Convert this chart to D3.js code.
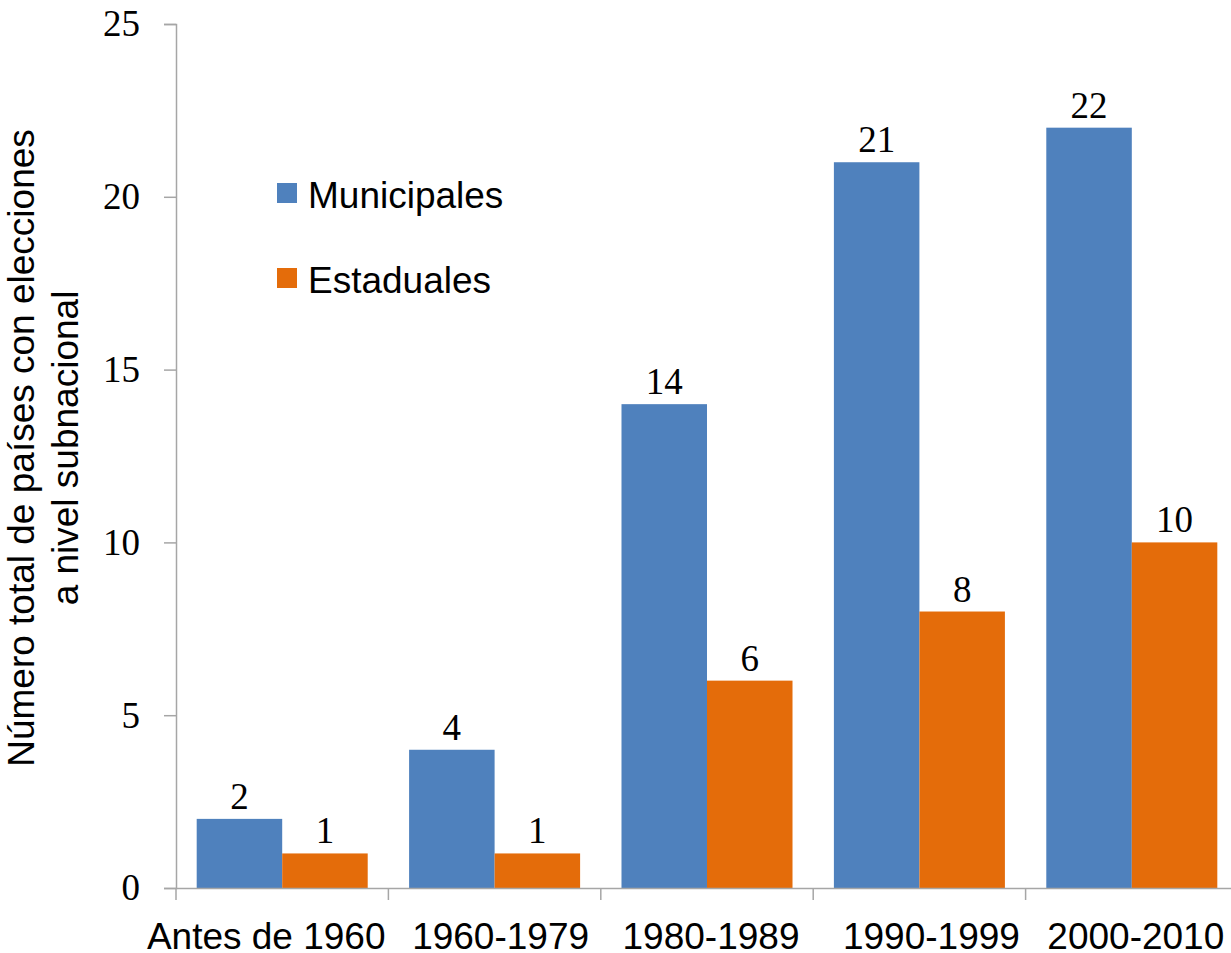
<!DOCTYPE html>
<html>
<head>
<meta charset="utf-8">
<script src="https://cdn.jsdelivr.net/npm/d3@7"></script>
<style>
  body { margin: 0; background: #fff; }
  svg { display: block; }
</style>
</head>
<body>
<div id="chart"></div>
<script>
// data
var categories = ["Antes de 1960", "1960-1979", "1980-1989", "1990-1999", "2000-2010"];
var seriesNames = ["Municipales", "Estaduales"];
var municipales = [2, 4, 14, 21, 22];
var estaduales = [1, 1, 6, 8, 10];
var yTicks = [0, 5, 10, 15, 20, 25];

var colors = {Municipales: "#4f81bd", Estaduales: "#e46c0a"};
// excel nudges the category labels so they don't collide
var labelNudge = [-16, 6, 4, 12, 4];

var W = 1231, H = 953;
var margin = {top: 24, right: -7, bottom: 65, left: 176};
var width = W - margin.left - margin.right,
    height = H - margin.top - margin.bottom;

var svg = d3.select("#chart")
  .append("svg")
    .attr("width", W)
    .attr("height", H)
  .append("g")
    .attr("transform", "translate(" + margin.left + "," + margin.top + ")");

var rows = categories.map(function(c, i) {
  return {cat: c, Municipales: municipales[i], Estaduales: estaduales[i]};
});

var x = d3.scaleBand()
  .domain(categories)
  .range([0, width]);

var inner = d3.scaleBand()
  .domain(seriesNames)
  .range([0, x.bandwidth()])
  .paddingOuter(0.242);

var y = d3.scaleLinear()
  .domain([0, 25])
  .range([height, 0]);

// bars
var groups = svg.selectAll(".grp")
  .data(rows)
  .enter()
  .append("g")
    .attr("transform", function(d) { return "translate(" + x(d.cat) + ",0)"; });

groups.selectAll("rect")
  .data(function(d) { return seriesNames.map(function(s) { return {key: s, value: d[s]}; }); })
  .enter()
  .append("rect")
    .attr("x", function(d) { return inner(d.key); })
    .attr("y", function(d) { return y(d.value); })
    .attr("width", inner.bandwidth())
    .attr("height", function(d) { return height - y(d.value); })
    .attr("fill", function(d) { return colors[d.key]; });

// value labels
groups.selectAll("text")
  .data(function(d) { return seriesNames.map(function(s) { return {key: s, value: d[s]}; }); })
  .enter()
  .append("text")
    .attr("x", function(d) { return inner(d.key) + inner.bandwidth() / 2; })
    .attr("y", function(d) { return y(d.value) - 10; })
    .attr("text-anchor", "middle")
    .style("font-family", "'Liberation Serif', 'Times New Roman', serif")
    .style("font-size", "37px")
    .text(function(d) { return d.value; });

// Y axis
var yAxis = svg.append("g")
  .call(d3.axisLeft(y).tickValues(yTicks).tickSize(12).tickPadding(24));
yAxis.selectAll("path, line").attr("stroke", "#a6a6a6").attr("stroke-width", 1.5);
yAxis.selectAll("text")
  .style("font-family", "'Liberation Serif', 'Times New Roman', serif")
  .style("font-size", "37px")
  .attr("fill", "#000");

// X axis
var xAxis = svg.append("g")
  .attr("transform", "translate(0," + height + ")")
  .call(d3.axisBottom(x).tickSize(0).tickSizeOuter(0).tickPadding(35));
xAxis.select(".domain").attr("stroke", "#a6a6a6").attr("stroke-width", 1.5);
xAxis.selectAll("text")
  .attr("dx", function(d, i) { return labelNudge[i]; })
  .style("font-family", "'Liberation Sans', Arial, sans-serif")
  .style("font-size", "37px")
  .attr("fill", "#000");

// category separators below axis
svg.append("g").selectAll("line")
  .data(categories)
  .enter()
  .append("line")
    .attr("x1", function(d) { return x(d); })
    .attr("x2", function(d) { return x(d); })
    .attr("y1", height)
    .attr("y2", height + 12)
    .attr("stroke", "#a6a6a6")
    .attr("stroke-width", 1.5);

// legend
var legend = svg.append("g")
  .attr("transform", "translate(101,159)");
seriesNames.forEach(function(s, i) {
  var row = legend.append("g").attr("transform", "translate(0," + (i * 85) + ")");
  row.append("rect")
    .attr("width", 20).attr("height", 20)
    .attr("fill", colors[s]);
  row.append("text")
    .attr("x", 31)
    .attr("y", 25)
    .style("font-family", "'Liberation Sans', Arial, sans-serif")
    .style("font-size", "37px")
    .text(s);
});

// Y title
var title = svg.append("text")
  .attr("transform", "translate(-142," + (height / 2 - 8) + ") rotate(-90)")
  .attr("text-anchor", "middle")
  .style("font-family", "'Liberation Sans', Arial, sans-serif")
  .style("font-size", "37px");
title.append("tspan").attr("x", 0).attr("dy", 0).text("Número total de países con elecciones");
title.append("tspan").attr("x", 0).attr("dy", 44).text("a nivel subnacional");
</script>
</body>
</html>
